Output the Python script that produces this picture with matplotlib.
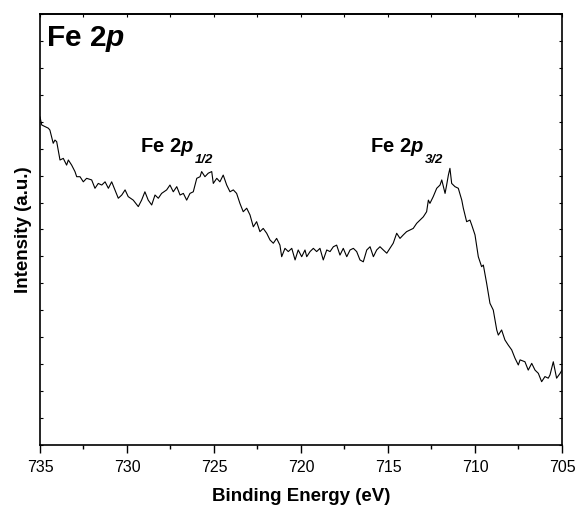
import matplotlib
matplotlib.use('Agg')
import matplotlib.pyplot as plt
from matplotlib.ticker import MultipleLocator

plt.rcParams['font.family'] = ['Liberation Sans', 'DejaVu Sans']
plt.rcParams['mathtext.fontset'] = 'custom'
plt.rcParams['mathtext.rm'] = 'Liberation Sans:bold'
plt.rcParams['mathtext.bf'] = 'Liberation Sans:bold'
plt.rcParams['mathtext.bfit'] = 'Liberation Sans:italic:bold'

# binding energy (eV) and intensity (a.u.)
energy = [735.00, 734.90, 734.52, 734.43, 734.24, 734.14, 734.04, 733.85, 733.66, 733.47,
          733.37, 733.18, 732.99, 732.89, 732.70, 732.51, 732.32, 732.03, 731.84, 731.65,
          731.45, 731.26, 731.07, 730.88, 730.69, 730.50, 730.30, 730.11, 729.93, 729.64,
          729.35, 729.16, 728.97, 728.78, 728.58, 728.39, 728.20, 728.01, 727.72, 727.53,
          727.34, 727.14, 726.95, 726.76, 726.57, 726.38, 726.19, 725.99, 725.80, 725.71,
          725.52, 725.33, 725.13, 725.04, 724.84, 724.66, 724.47, 724.27, 724.08, 723.89,
          723.70, 723.51, 723.32, 723.12, 722.93, 722.74, 722.55, 722.36, 722.17, 721.97,
          721.78, 721.59, 721.40, 721.21, 721.11, 720.92, 720.73, 720.53, 720.34, 720.16,
          719.96, 719.77, 719.67, 719.48, 719.29, 719.10, 718.91, 718.72, 718.52, 718.33,
          718.14, 717.95, 717.76, 717.57, 717.37, 717.18, 716.99, 716.80, 716.61, 716.42,
          716.22, 716.03, 715.84, 715.65, 715.46, 715.27, 715.07, 714.89, 714.70, 714.50,
          714.31, 714.12, 713.93, 713.74, 713.55, 713.35, 713.16, 712.97, 712.78, 712.68,
          712.59, 712.40, 712.20, 712.01, 711.91, 711.72, 711.63, 711.53, 711.44, 711.34,
          711.15, 710.96, 710.76, 710.67, 710.48, 710.29, 710.19, 710.00, 709.81, 709.62,
          709.52, 709.33, 709.14, 708.95, 708.75, 708.66, 708.47, 708.28, 708.09, 707.89,
          707.70, 707.51, 707.41, 707.13, 706.94, 706.74, 706.55, 706.36, 706.17, 705.98,
          705.79, 705.69, 705.50, 705.31, 705.11, 705.00]
intensity = [12.18, 11.88, 11.76, 11.69, 11.20, 11.32, 11.26, 10.58, 10.64, 10.39,
             10.58, 10.39, 10.15, 9.96, 9.96, 9.77, 9.90, 9.84, 9.53, 9.71,
             9.65, 9.77, 9.53, 9.77, 9.47, 9.16, 9.28, 9.47, 9.22, 9.09,
             8.85, 9.09, 9.40, 9.09, 8.91, 9.28, 9.16, 9.34, 9.47, 9.65,
             9.40, 9.59, 9.28, 9.34, 9.09, 9.34, 9.40, 9.90, 9.96, 10.15,
             9.96, 10.09, 10.15, 9.71, 9.90, 9.77, 10.02, 9.65, 9.40, 9.47,
             9.34, 8.97, 8.66, 8.79, 8.54, 8.10, 8.29, 7.92, 8.04, 7.86,
             7.61, 7.49, 7.67, 7.42, 6.99, 7.30, 7.18, 7.30, 6.87, 7.24,
             6.99, 7.24, 6.99, 7.18, 7.30, 7.18, 7.30, 6.87, 7.24, 7.18,
             7.36, 7.42, 7.05, 7.30, 6.99, 7.24, 7.30, 7.18, 6.87, 6.80,
             7.24, 7.36, 6.99, 7.24, 7.36, 7.24, 7.12, 7.30, 7.49, 7.86,
             7.67, 7.80, 7.92, 7.98, 8.04, 8.23, 8.35, 8.47, 8.66, 9.09,
             8.97, 9.22, 9.53, 9.65, 9.84, 9.34, 9.65, 10.02, 10.27, 9.71,
             9.59, 9.53, 9.09, 8.79, 8.29, 8.35, 8.17, 7.80, 6.99, 6.62,
             6.68, 6.00, 5.26, 5.01, 4.27, 4.08, 4.27, 3.90, 3.71, 3.53,
             3.22, 2.97, 3.16, 3.09, 2.78, 3.03, 2.78, 2.66, 2.35, 2.54,
             2.48, 2.60, 3.09, 2.48, 2.66, 2.78]

xticks = [735, 730, 725, 720, 715, 710, 705]

# peak labels: (energy, intensity, subscript)
peak_labels = [(729.25, 10.88, '1/2'), (716.03, 10.88, '3/2')]

fig = plt.figure(figsize=(5.77, 5.07), dpi=100)
ax = fig.add_axes([0.0693, 0.1223, 0.9047, 0.8501])

ax.plot(energy, intensity, color='black', lw=0.8)

ax.set_xlim(735, 705)
ax.set_ylim(0, 16)
ax.set_xticks(xticks)
ax.set_xticklabels([str(t) for t in xticks], fontsize=11.5)
ax.xaxis.set_minor_locator(MultipleLocator(2.5))
ax.tick_params(axis='x', which='major', direction='out', length=6, width=1.0, pad=5, top=False)
ax.tick_params(axis='x', which='minor', direction='out', length=3, width=1.0, top=False)
ax.yaxis.set_major_locator(MultipleLocator(1))
ax.tick_params(axis='y', which='major', direction='in', length=2.5, width=0.8,
               left=True, right=True, labelleft=False)

top = ax.secondary_xaxis('top')
top.xaxis.set_major_locator(MultipleLocator(2.5))
top.tick_params(direction='in', length=2.5, width=0.8, labeltop=False)

for s in ax.spines.values():
    s.set_linewidth(1.2)
for s in top.spines.values():
    s.set_linewidth(1.2)

ax.set_xlabel('Binding Energy (eV)', fontsize=13.5, fontweight='bold', labelpad=9)
ax.set_ylabel('Intensity (a.u.)', fontsize=13.5, fontweight='bold', labelpad=6)

ax.text(734.66, 14.83, r'Fe 2$\mathbfit{p}$', fontsize=21.5, fontweight='bold',
        ha='left', va='baseline')

fig.canvas.draw()
renderer = fig.canvas.get_renderer()
for e, i, sub in peak_labels:
    t = ax.text(e, i, r'Fe 2$\mathbfit{p}$', fontsize=14.5, fontweight='bold',
                ha='left', va='baseline')
    bb = t.get_window_extent(renderer)
    x_end = ax.transData.inverted().transform((bb.x1, bb.y0))[0]
    ax.annotate(sub, xy=(x_end, i), xytext=(1, -11), textcoords='offset pixels',
                fontsize=9.5, fontweight='bold', fontstyle='italic',
                ha='left', va='baseline')

fig.savefig('out.png', dpi=100)
